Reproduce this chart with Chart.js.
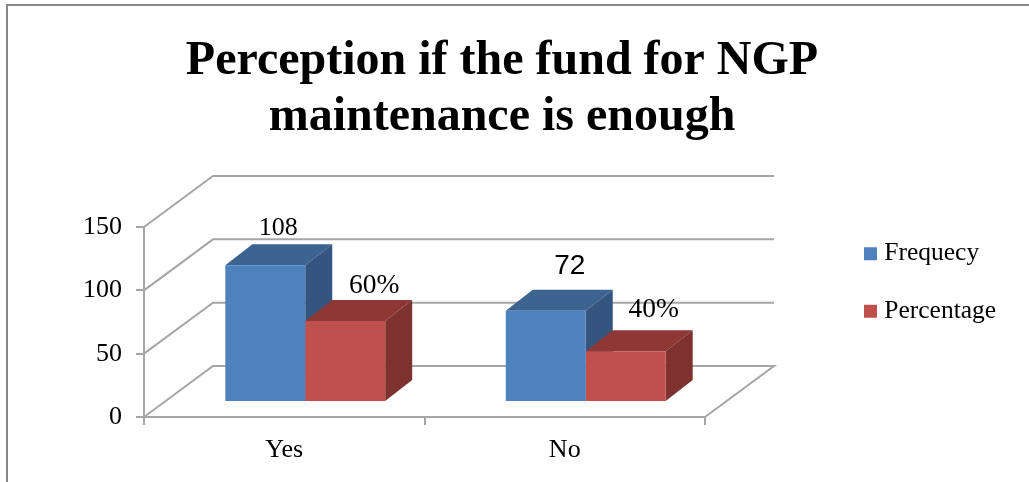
<!DOCTYPE html>
<html>
<head>
<meta charset="utf-8">
<script src="https://cdn.jsdelivr.net/npm/chart.js@4"></script>
<style>
html, body { margin: 0; padding: 0; background: #fff; overflow: hidden; }
#wrap { position: absolute; left: 0; top: 0; width: 1029px; height: 482px; }
#frame { position: absolute; left: 6px; top: 4px; right: 0; bottom: 0; border-left: 2px solid #888; border-top: 2px solid #888; }
</style>
</head>
<body>
<div id="wrap">
  <div id="frame"></div>
  <canvas id="chart1" width="1029" height="482" style="position:absolute;left:0;top:0"></canvas>
</div>
<script>
// chart values
const categories = ["Yes", "No"];
const frequency = [108, 72];
// the first red bar stands a bit taller in the picture than its 60% label says
const percentage = [64, 40];
const frequencyLabels = ["108", "72"];
const percentageLabels = ["60%", "40%"];
const yTicks = [0, 50, 100, 150];

// fake 3d look
const wallShift = { x: 69, y: -51 };
const barShift = { x: 21, y: -15 };
const barDepth = { x: 27, y: -21 };
const gridColor = "#a6a6a6";
const faceColors = [
    { top: "#3d6391", side: "#33557f" },
    { top: "#8e3835", side: "#7d322f" },
];
// data label offset from bar centre / bar top
const labelOffsets = [
    [{ x: 13, y: -37 }, { x: 24, y: -45 }],
    [{ x: 29, y: -35 }, { x: 28, y: -42 }],
];
const labelFonts = [
    ['26px "Liberation Serif"', '28px "Liberation Sans"'],
    ['27.5px "Liberation Serif"', '27.5px "Liberation Serif"'],
];

function poly(ctx, pts, color) {
    ctx.beginPath();
    ctx.moveTo(pts[0][0], pts[0][1]);
    pts.slice(1).forEach(p => ctx.lineTo(p[0], p[1]));
    ctx.closePath();
    ctx.fillStyle = color;
    ctx.fill();
}

const fake3d = {
    id: "fake3d",
    afterLayout(chart) {
        // title and legend do not follow the plot area here
        const t = chart.titleBlock, l = chart.legend;
        t.left = 0;
        t.right = 1004;
        t.width = 1004;
        l.left = 837.5;
        l.right = 1029;
        l.width = 191.5;
        l.top = 209;
        l.bottom = 440;
        l.height = 231;
    },
    beforeDatasetsDraw(chart) {
        const ctx = chart.ctx, area = chart.chartArea, y = chart.scales.y;
        ctx.save();
        // wall and floor lines
        ctx.strokeStyle = gridColor;
        ctx.lineWidth = 2;
        yTicks.forEach(v => {
            const py = y.getPixelForValue(v);
            ctx.beginPath();
            ctx.moveTo(area.left, py);
            ctx.lineTo(area.left + wallShift.x, py + wallShift.y);
            ctx.lineTo(area.right + wallShift.x, py + wallShift.y);
            if (v === 0) ctx.lineTo(area.right, py);
            ctx.stroke();
        });
        // top and side of every bar, the front comes from the library
        ctx.translate(barShift.x, barShift.y);
        chart.data.datasets.forEach((ds, i) => {
            chart.getDatasetMeta(i).data.forEach(bar => {
                const b = bar.getProps(["x", "y", "base", "width"]);
                const l = b.x - b.width / 2, r = b.x + b.width / 2;
                poly(ctx, [[l, b.y], [l + barDepth.x, b.y + barDepth.y], [r + barDepth.x, b.y + barDepth.y], [r, b.y]], faceColors[i].top);
                poly(ctx, [[r, b.y], [r + barDepth.x, b.y + barDepth.y], [r + barDepth.x, b.base + barDepth.y], [r, b.base]], faceColors[i].side);
            });
        });
    },
    afterDatasetsDraw(chart) {
        const ctx = chart.ctx;
        ctx.restore();
        ctx.save();
        ctx.fillStyle = "#000";
        ctx.textAlign = "center";
        ctx.textBaseline = "middle";
        const texts = [frequencyLabels, percentageLabels];
        chart.data.datasets.forEach((ds, i) => {
            chart.getDatasetMeta(i).data.forEach((bar, j) => {
                const b = bar.getProps(["x", "y"]);
                ctx.font = labelFonts[i][j];
                ctx.fillText(texts[i][j], b.x + barShift.x + labelOffsets[i][j].x, b.y + barShift.y + labelOffsets[i][j].y);
            });
        });
        ctx.restore();
    },
};

let ctx1 = document.getElementById("chart1").getContext("2d");
let chart1 = new Chart(ctx1, {
    type: "bar",
    data: {
        labels: categories,
        datasets: [
            { label: "Frequecy", backgroundColor: "#4f81bd", data: frequency, clip: false },
            { label: "Percentage", backgroundColor: "#c0504d", data: percentage, clip: false },
        ],
    },
    options: {
        responsive: false,
        animation: false,
        layout: { padding: { right: 324 } },
        categoryPercentage: 0.57,
        barPercentage: 1,
        scales: {
            x: {
                afterFit(s) { s.height = 65; },
                border: { color: gridColor, width: 2 },
                grid: { drawOnChartArea: false, color: gridColor, lineWidth: 2, tickLength: 8 },
                ticks: { color: "#000", padding: 10, font: { family: "Liberation Serif", size: 26 } },
            },
            y: {
                min: 0,
                max: 150,
                afterFit(s) { s.width = 144; },
                afterBuildTicks(s) { s.ticks = yTicks.map(v => ({ value: v })); },
                border: { color: gridColor, width: 2 },
                grid: { drawOnChartArea: false, color: gridColor, lineWidth: 2, tickLength: 8 },
                ticks: { color: "#000", padding: 14, font: { family: "Liberation Serif", size: 26 } },
            },
        },
        plugins: {
            title: {
                display: true,
                text: ["Perception if the fund for NGP", "maintenance is enough"],
                color: "#000",
                font: { family: "Liberation Serif", size: 48, weight: "bold", lineHeight: 1.167 },
                padding: { top: 34, bottom: 81 },
            },
            legend: {
                position: "chartArea",
                align: "start",
                labels: {
                    color: "#000",
                    usePointStyle: true,
                    pointStyle: "rect",
                    boxWidth: 2,
                    boxHeight: 13,
                    padding: 32,
                    font: { family: "Liberation Serif", size: 25.5 },
                },
            },
            tooltip: { enabled: false },
        },
    },
    plugins: [fake3d],
});
</script>
</body>
</html>
